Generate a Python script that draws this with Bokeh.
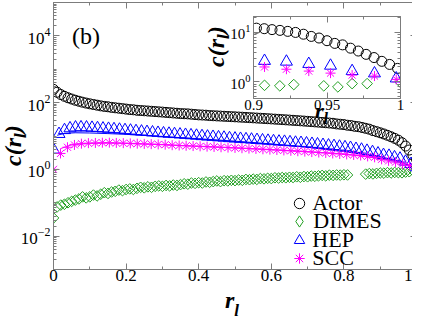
import numpy as np
from bokeh.plotting import figure
from bokeh.models import (Range1d, FixedTicker, LinearAxis, LogAxis, Div,
                          Legend, LegendItem, Column)
from bokeh.embed import file_html
from bokeh.resources import INLINE

nan = float("nan")

# ---------------- data ----------------
actor_x = np.linspace(0.0, 1.0, 101)
actor_y = [250, 205, 175, 155, 140, 128, 118, 110, 103, 97,
           92, 88, 84, 80, 77, 75, 72, 70, 68, 66,
           64, 62, 61, 59, 58, 57, 56, 55, 54, 53,
           52, 51, 50, 49, 48, 47, 46.5, 46, 45, 44,
           43, 42.5, 42, 41, 40.5, 40, 39.5, 39, 38.5, 38,
           37.5, 37, 36.5, 36, 35.5, 35, 34.5, 34, 33.5, 33,
           32.5, 32, 31.5, 31, 30.5, 30, 29.5, 29, 28.5, 28,
           27.5, 27, 26.5, 26, 25.5, 25, 24.5, 24, 23, 22.5,
           22, 21, 20.5, 19.5, 19, 18, 17, 16, 14.5, 13.5,
           12.5, 11.5, 10.5, 9.5, 8.5, 7.5, 6.3, 5.0, 3.8, 2.7,
           2.0]

dimes_x = np.linspace(0.0, 1.0, 101)
dimes_y = [0.035, 0.075, 0.085, 0.09, 0.10, 0.11, 0.12, 0.13, 0.15, 0.14,
           0.15, 0.17, 0.16, 0.18, 0.20, 0.19, 0.21, 0.22, 0.24, 0.23,
           0.25, 0.26, 0.25, 0.27, 0.29, 0.28, 0.30, 0.29, 0.31, 0.32,
           0.31, 0.33, 0.32, 0.34, 0.33, 0.35, 0.37, 0.36, 0.39, 0.38,
           0.40, 0.39, 0.42, 0.41, 0.43, 0.45, 0.43, 0.46, 0.45, 0.47,
           0.46, 0.48, 0.47, 0.50, 0.49, 0.51, 0.50, 0.53, 0.52, 0.54,
           0.53, 0.56, 0.55, 0.57, 0.56, 0.58, 0.57, 0.60, 0.58, 0.61,
           0.60, 0.63, 0.62, 0.64, 0.66, 0.64, 0.67, 0.66, 0.68, 0.67,
           0.69, 0.68, nan, nan, nan, nan, 0.72, 0.75, 0.73, 0.76,
           0.78, 0.77, 0.80, 0.78, 0.81, 0.80, 0.79, 0.83, 0.85, 0.92,
           1.0]

hep_x = np.linspace(0.0, 1.0, 67)
hep_y = [3.9, 11.5, 15.0, 17.0, 18.0, 18.2, 18.0, 17.6, 17.2, 16.8,
         16.4, 16.0, 15.5, 15.0, 14.5, 14.0, 13.6, 13.2, 12.8, 12.4,
         12.0, 11.7, 11.4, 11.1, 10.8, 10.5, 10.2, 9.9, 9.6, 9.4,
         9.1, 8.9, 8.6, 8.4, 8.2, 8.0, 7.8, 7.6, 7.4, 7.2,
         7.0, 6.8, 6.7, 6.5, 6.3, 6.2, 6.0, 5.8, 5.6, 5.4,
         5.2, 5.0, 4.8, 4.6, 4.4, 4.1, 3.9, 3.6, 3.3, 3.0,
         2.7, 2.55, 2.3, 2.1, 1.7, 1.45, 1.15]

scc_x = np.linspace(0.0, 1.0, 53)
scc_y = [1.0, 3.0, 4.6, 5.4, 5.9, 6.1, 6.2, 6.3, 6.3, 6.2,
         6.1, 6.0, 5.9, 5.8, 5.7, 5.6, 5.5, 5.3, 5.2, 5.1,
         5.0, 4.9, 4.8, 4.7, 4.6, 4.5, 4.4, 4.3, 4.2, 4.1,
         4.0, 3.9, 3.8, 3.7, 3.6, 3.5, 3.4, 3.3, 3.2, 3.1,
         3.0, 2.9, 2.8, 2.7, 2.6, 2.45, 2.3, 2.0, 1.8, 1.65,
         1.45, 1.3, 1.1]

hep_line_x = [0.01, 0.03, 0.06, 0.1, 0.15, 0.2, 0.3, 0.4, 0.5, 0.6, 0.7, 0.8, 0.9, 0.95, 1.0]
hep_line_y = [10.5, 12.0, 12.5, 12.3, 11.8, 11.2, 9.6, 8.3, 7.0, 5.8, 4.6, 3.4, 2.4, 1.8, 1.05]
scc_line_x = [0.02, 0.05, 0.1, 0.15, 0.2, 0.3, 0.4, 0.5, 0.6, 0.7, 0.8, 0.9, 0.95, 1.0]
scc_line_y = [4.2, 5.5, 6.0, 6.1, 6.0, 5.5, 4.9, 4.4, 3.9, 3.4, 2.9, 2.1, 1.7, 1.1]

# inset data
in_actor_x = [0.902, 0.9073, 0.9126, 0.918, 0.9233, 0.9286, 0.934, 0.9393, 0.9446, 0.95,
              0.9553, 0.9606, 0.966, 0.9713, 0.9766, 0.982, 0.9873, 0.9926, 0.998]
in_actor_y = [12.2, 11.9, 11.4, 11.0, 10.5, 10.0, 9.2, 8.3, 7.7, 6.8,
              6.0, 5.6, 4.8, 4.2, 3.6, 3.1, 2.6, 2.25, 1.87]
in_hep_x = [0.9075, 0.9224, 0.9376, 0.9524, 0.9671, 0.9823, 0.9971]
in_hep_y = [2.65, 2.56, 2.3, 2.12, 1.65, 1.48, 1.17]
in_scc_x = [0.9075, 0.9224, 0.9376, 0.9524, 0.9671, 0.9823, 0.9971]
in_scc_y = [2.0, 1.8, 1.65, 1.5, 1.37, 1.31, 1.12]
in_dimes_x = [0.9075, 0.9179, 0.9274, 0.9478, 0.9574, 0.9671, 0.9773, 1.0]
in_dimes_y = [0.85, 0.83, 0.88, 0.83, 0.79, 0.92, 0.92, 0.97]

x_ticks = [0.0, 0.2, 0.4, 0.6, 0.8, 1.0]
x_tick_labels = ["0", "0.2", "0.4", "0.6", "0.8", "1"]
x_minor = [0.1, 0.3, 0.5, 0.7, 0.9]
y_ticks = [1e-2, 1e0, 1e2, 1e4]
in_x_ticks = [0.9, 0.95, 1.0]
in_x_tick_labels = ["0.9", "0.95", "1"]
in_x_minor = [0.925, 0.975]
in_y_ticks = [1.0, 10.0]

series_names = ["Actor", "DIMES", "HEP", "SCC"]
panel_tag = "(b)"

# ---------------- style ----------------
AX = "#7c7c7c"
FONT = "Liberation Serif"
C_ACTOR = "black"
C_DIMES = "#22a022"
C_HEP = "#0000ff"
C_SCC = "#ff00ff"


def log_minor(lo, hi):
    out = []
    for e in range(lo, hi):
        for m in range(1, 10):
            out.append(m * 10.0 ** e)
    return out


def style_axis(ax, size, show=True, standoff=2):
    ax.axis_line_color = AX
    ax.major_tick_line_color = AX
    ax.minor_tick_line_color = AX
    ax.major_tick_in = 6
    ax.major_tick_out = 0
    ax.minor_tick_in = 3
    ax.minor_tick_out = 0
    ax.major_label_text_font = FONT
    ax.major_label_text_color = "black"
    ax.major_label_standoff = standoff
    if show:
        ax.major_label_text_font_size = f"{size}px"
    else:
        ax.major_label_text_font_size = "1px"
        ax.major_label_text_alpha = 0
        ax.major_label_standoff = 0


# ---------------- main figure ----------------
p = figure(frame_width=363, frame_height=267,
           x_range=Range1d(0.0, 1.0), y_range=Range1d(1e-3, 1e5),
           y_axis_type="log", output_backend="svg", toolbar_location=None,
           min_border_left=41, min_border_right=8, min_border_top=2,
           min_border_bottom=42)
p.grid.visible = False
p.outline_line_color = AX
p.background_fill_color = "white"
p.border_fill_color = "white"

xt = FixedTicker(ticks=x_ticks, minor_ticks=x_minor)
yt = FixedTicker(ticks=y_ticks, minor_ticks=log_minor(-3, 5))

p.xaxis[0].ticker = xt
p.xaxis[0].major_label_overrides = {t: s for t, s in zip(x_ticks, x_tick_labels)}
style_axis(p.xaxis[0], 17, standoff=0)
p.yaxis[0].ticker = yt
style_axis(p.yaxis[0], 17, standoff=3)

top = LinearAxis(ticker=xt)
style_axis(top, 0, show=False)
p.add_layout(top, "above")
right = LogAxis(ticker=yt)
style_axis(right, 0, show=False)
p.add_layout(right, "right")

p.line(hep_line_x, hep_line_y, line_color=C_HEP, line_width=1)
p.line(scc_line_x, scc_line_y, line_color=C_SCC, line_width=1)
r_actor = p.scatter(actor_x, actor_y, marker="circle", size=10,
                    fill_alpha=0, line_color=C_ACTOR, line_width=1)
r_dimes = p.scatter(dimes_x, dimes_y, marker="square", angle=np.pi / 4, size=7.5,
                    fill_alpha=0, line_color=C_DIMES, line_width=1)
r_hep = p.scatter(hep_x, hep_y, marker="triangle", size=12,
                  fill_alpha=0, line_color=C_HEP, line_width=1)
r_scc = p.scatter(scc_x, scc_y, marker="asterisk", size=10,
                  line_color=C_SCC, line_width=1)
# legend proxy for the diamond symbol (legend glyphs ignore marker angle); never visible
r_dimes_key = p.scatter(x=[nan], y=[nan], marker="diamond", size=11,
                        fill_alpha=0, line_color=C_DIMES, line_width=1)

legend_rows = [(series_names[0], r_actor, 53, 26),
               (series_names[1], r_dimes_key, 34, 28),
               (series_names[2], r_hep, 16, 26),
               (series_names[3], r_scc, -2, 26)]
for name, rend, ly, gw in legend_rows:
    lg = Legend(items=[LegendItem(label=name, renderers=[rend])],
                location=(259 - gw // 2, ly), glyph_width=gw, glyph_height=gw,
                padding=0, margin=0, spacing=0, label_standoff=13 - gw // 2,
                label_text_font=FONT, label_text_font_size="22px",
                label_text_color="black",
                border_line_alpha=0, background_fill_alpha=0)
    p.add_layout(lg)

# ---------------- inset ----------------
ins = figure(frame_width=147, frame_height=82,
             x_range=Range1d(0.9, 1.0), y_range=Range1d(0.46, 21),
             y_axis_type="log", output_backend="svg", toolbar_location=None,
             min_border_left=53, min_border_right=8, min_border_top=8,
             min_border_bottom=27)
ins.grid.visible = False
ins.outline_line_color = AX
ins.background_fill_color = "white"
ins.border_fill_alpha = 0
ins.styles = {"position": "absolute", "left": "200px", "top": "8px", "z-index": "10"}

ixt = FixedTicker(ticks=in_x_ticks, minor_ticks=in_x_minor)
iyt = FixedTicker(ticks=in_y_ticks, minor_ticks=log_minor(-1, 2))
ins.xaxis[0].ticker = ixt
ins.xaxis[0].major_label_overrides = {t: s for t, s in zip(in_x_ticks, in_x_tick_labels)}
style_axis(ins.xaxis[0], 15, standoff=1)
ins.yaxis[0].ticker = iyt
style_axis(ins.yaxis[0], 15, standoff=3)
itop = LinearAxis(ticker=ixt)
style_axis(itop, 0, show=False)
ins.add_layout(itop, "above")
iright = LogAxis(ticker=iyt)
style_axis(iright, 0, show=False)
ins.add_layout(iright, "right")

ins.scatter(in_actor_x, in_actor_y, marker="circle", size=10,
            fill_alpha=0, line_color=C_ACTOR, line_width=1)
ins.scatter(in_dimes_x, in_dimes_y, marker="square", angle=np.pi / 4, size=7.5,
            fill_alpha=0, line_color=C_DIMES, line_width=1)
ins.scatter(in_hep_x, in_hep_y, marker="triangle", size=12,
            fill_alpha=0, line_color=C_HEP, line_width=1)
ins.scatter(in_scc_x, in_scc_y, marker="asterisk", size=10,
            line_color=C_SCC, line_width=1)


# ---------------- texts outside the frames (HTML, absolutely placed) ----------------
def text_div(html, left, top, size, bold_italic=True, rotate=False):
    weight = "bold" if bold_italic else "normal"
    style = "italic" if bold_italic else "normal"
    styles = {"position": "absolute", "left": f"{left}px", "top": f"{top}px",
              "z-index": "20", "font-family": f"'{FONT}', serif",
              "font-size": f"{size}px", "line-height": f"{size}px",
              "font-weight": weight, "font-style": style, "color": "black",
              "white-space": "nowrap", "pointer-events": "none"}
    if rotate:
        styles["transform"] = "rotate(-90deg)"
        styles["transform-origin"] = "0 0"
    return Div(text=html, margin=0, styles=styles)


def rl(sub_size, drop):
    return (f'r<span style="font-size:{sub_size}px;position:relative;top:{drop}px">l</span>')


divs = [
    text_div(panel_tag, 72, 24, 24, bold_italic=False),
    text_div(rl(17, 8), 225, 288, 24),
    text_div("c(" + rl(17, 5) + ")", 1, 166, 24, rotate=True),
    text_div(rl(16, 6), 315, 100, 22),
    text_div("c(" + rl(17, 5) + ")", 204, 67, 24, rotate=True),
]

page = Column(children=[p, ins] + divs)
open("out.html", "w").write(file_html(page, INLINE))
